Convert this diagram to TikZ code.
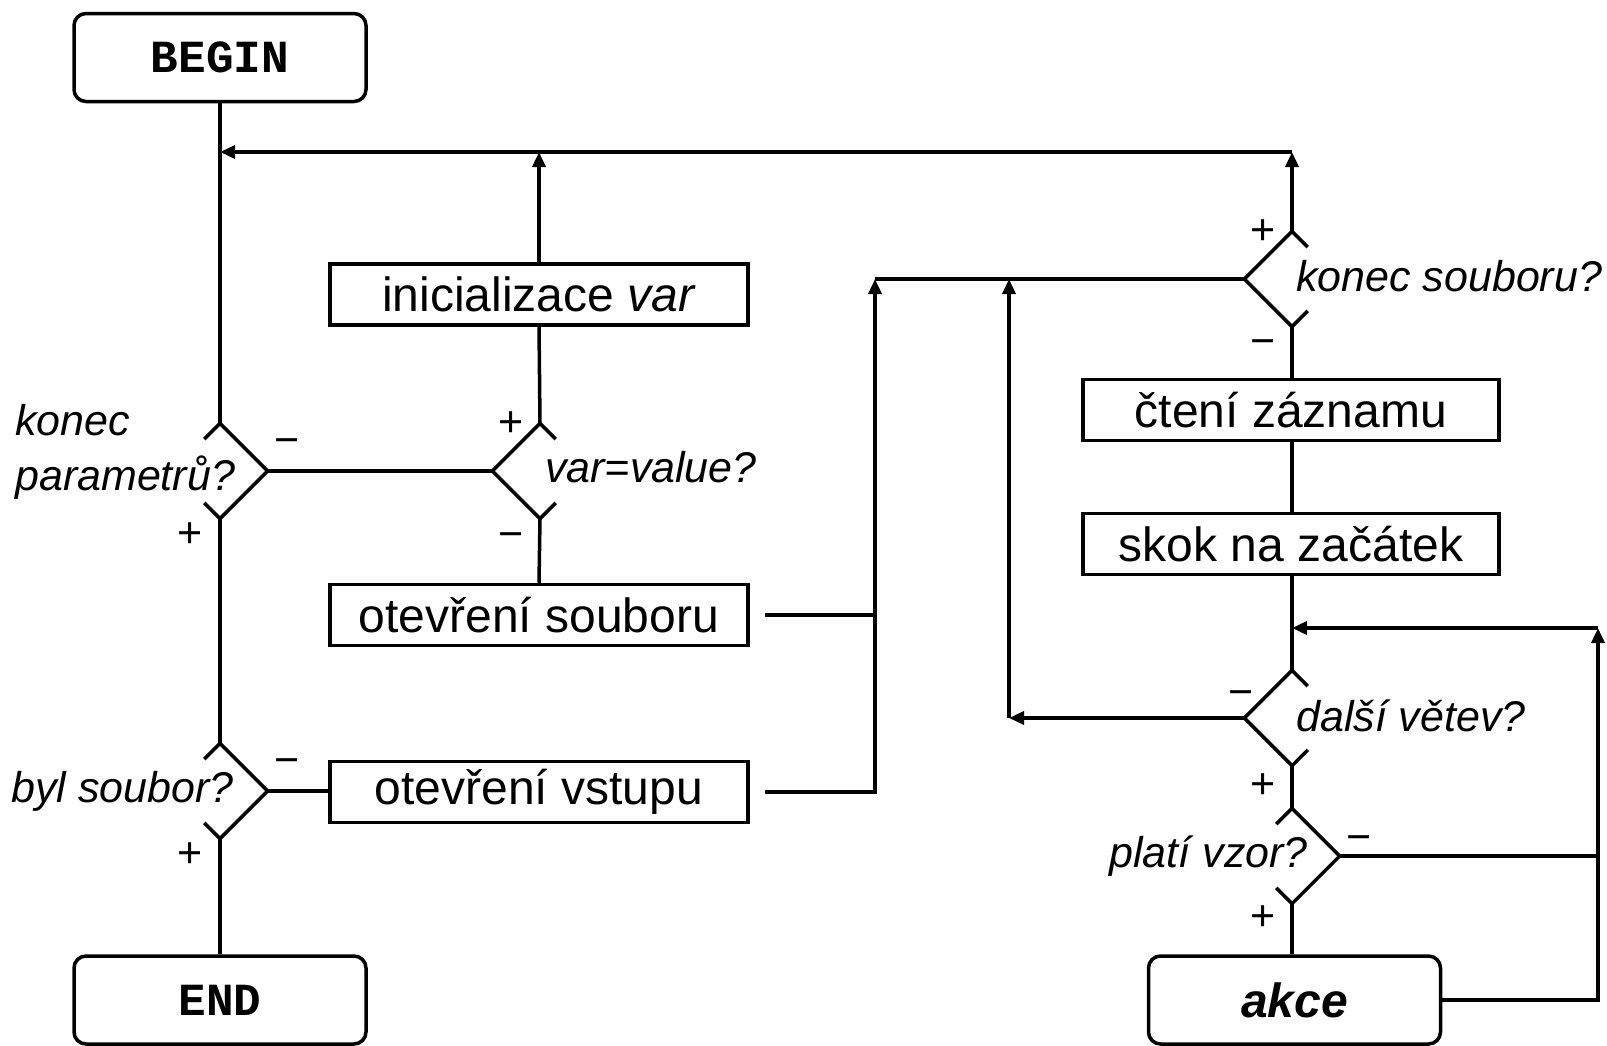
\documentclass[tikz,border=0pt]{standalone}
\usepackage{fontspec}
\setmainfont{Liberation Sans}
\setmonofont{Liberation Mono}
\usetikzlibrary{arrows.meta,shapes.geometric,calc}
\tikzset{
    %Define standard arrow tip
    >={Triangle[length=15pt,width=13pt]},
    %Define style for plain lines
    wire/.style={line width=3.5pt},
    %Define style for boxes
    box/.style={
           rectangle,
           draw=black, line width=3.5pt,
           minimum width=418pt,
           minimum height=61pt,
           font=\fontsize{48}{58}\selectfont},
    terminal/.style={
           rectangle,
           rounded corners=12pt,
           draw=black, line width=3.5pt,
           minimum width=292pt,
           minimum height=88pt,
           font=\ttfamily\bfseries\fontsize{46}{56}\selectfont},
    % Define style for decisions
    decision/.style={
           diamond,
           inner sep=0pt,
           minimum width=95pt,
           minimum height=95pt},
    question/.style={
           inner sep=0pt,
           font=\itshape\fontsize{43}{55}\selectfont},
    pm/.style={
           anchor=base,
           inner sep=0pt,
           font=\fontsize{43}{50}\selectfont},
    % Define arrow style
    flow/.style={
           ->,
           line width=3.5pt}
}
% decision drawn open on one side: name, closed side, open side
\newcommand{\halfdiamond}[3]{%
    \draw[wire] (#1.north) -- (#1.#2) -- (#1.south);
    \draw[wire] (#1.north) -- ($(#1.north)!0.33!(#1.#3)$);
    \draw[wire] (#1.south) -- ($(#1.south)!0.33!(#1.#3)$);
}

\begin{document}
\begin{tikzpicture}[x=1pt, y=-1pt]
    \useasboundingbox (0,0) rectangle (1607,1045);
 %nodes
    \node[terminal] (begin) at (220,57.5) {BEGIN};
    \node[terminal] (end) at (220,1000) {END};
    \node[terminal, font=\bfseries\itshape\fontsize{48}{58}\selectfont] (akce) at (1294.5,1000) {akce};
    \node[box] (init) at (539,294.5) {inicializace \textit{var}};
    \node[box] (osoub) at (539,615) {otevření souboru};
    \node[box] (ovst) at (539,792) {otevření vstupu};
    \node[box, minimum width=416pt] (cteni) at (1291,410) {čtení záznamu};
    \node[box, minimum width=416pt] (skok) at (1291,544) {skok na začátek};
    \node[decision] (kp) at (220,471) {};
    \node[decision] (vv) at (540,471) {};
    \node[decision] (bs) at (220,791) {};
    \node[decision] (ks) at (1292,279) {};
    \node[decision] (dv) at (1292,718) {};
    \node[decision] (pv) at (1292,856) {};
 %questions
    \node[question, anchor=west, align=left] (kpq) at (15,452) {konec\\parametrů?};
    \node[question, anchor=base west] (vvq) at (545,482) {var=value?};
    \node[question, anchor=base west] (bsq) at (11,802) {byl soubor?};
    \node[question, anchor=base west] (ksq) at (1296,291) {konec souboru?};
    \node[question, anchor=base west] (dvq) at (1296,731) {další větev?};
    \node[question, anchor=base east] (pvq) at (1308,867) {platí vzor?};
 %signs
    \node[pm] (kpn) at (287,454) {−};
    \node[pm] (kpy) at (190,547) {+};
    \node[pm] (vvy) at (511,436) {+};
    \node[pm] (vvn) at (511,548) {−};
    \node[pm] (bsn) at (287,774) {−};
    \node[pm] (bsy) at (190,867) {+};
    \node[pm] (ksy) at (1263,244) {+};
    \node[pm] (ksn) at (1263,355) {−};
    \node[pm] (dvn) at (1241,706) {−};
    \node[pm] (dvy) at (1263,798) {+};
    \node[pm] (pvn) at (1359,851) {−};
    \node[pm] (pvy) at (1263,930) {+};
 %joints
    \coordinate (tl) at (220,152);
    \coordinate (tr) at (1292,152);
    \coordinate (jn) at (875,279);
    \coordinate (dvl) at (1009,718);
    \coordinate (rr) at (1598,628);
 %decisions
    \halfdiamond{kp}{east}{west}
    \halfdiamond{vv}{west}{east}
    \halfdiamond{bs}{east}{west}
    \halfdiamond{ks}{west}{east}
    \halfdiamond{dv}{west}{east}
    \halfdiamond{pv}{east}{west}
 %edges
    \draw[wire] (begin.south) -- (kp.north);
    \draw[wire] (kp.east) -- (vv.west);
    \draw[wire] (vv.north) -- (init.south);
    \draw[flow] (init.north) -- (init.north |- tl);
    \draw[wire] (vv.south) -- (osoub.north);
    \draw[wire] (kp.south) -- (bs.north);
    \draw[wire] (bs.east) -- (bs.east -| ovst.west);
    \draw[wire] (bs.south) -- (end.north);
    \draw[wire] ([xshift=15pt]osoub.east) -- (osoub.east -| jn);
    \draw[flow] ([xshift=15pt]ovst.east) -| (jn);
    \draw[wire] (ks.west) -- (jn);
    \draw[flow] (ks.north) -- (tr);
    \draw[flow] (tr) -- (tl);
    \draw[wire] (ks.south) -- (ks.south |- cteni.north);
    \draw[wire] (cteni.south -| ks.south) -- (skok.north -| ks.south);
    \draw[wire] (skok.south -| dv.north) -- (dv.north);
    \draw[flow] (dv.west) -- (dvl);
    \draw[flow] (dvl) -- (dvl |- jn);
    \draw[wire] (dv.south) -- (pv.north);
    \draw[wire] (pv.south) -- (pv.south |- akce.north);
    \draw[wire] (pv.east) -- (pv.east -| rr);
    \draw[flow] (akce.east) -| (rr);
    \draw[flow] (rr) -- (rr -| dv.north);
\end{tikzpicture}
\end{document}
